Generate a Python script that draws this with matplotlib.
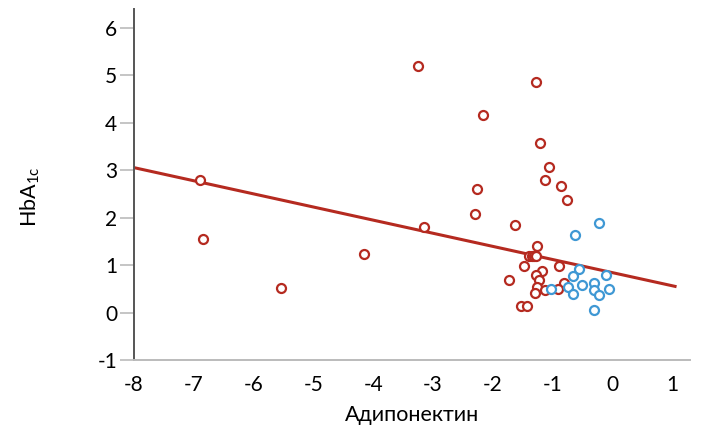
import matplotlib
matplotlib.use("Agg")
import matplotlib.pyplot as plt

plt.rcParams['font.family'] = ['Lato', 'DejaVu Sans']
plt.rcParams['mathtext.fontset'] = 'custom'
plt.rcParams['mathtext.rm'] = 'Lato'
plt.rcParams['mathtext.it'] = 'Lato'

# red group
red_x = [-6.90, -6.84, -5.54, -4.15, -3.15, -3.25, -2.16, -2.27, -2.29, -1.62,
         -1.27, -1.21, -1.06, -1.13, -0.85, -0.76, -1.26, -1.39, -1.35, -1.31,
         -1.27, -1.48, -0.89, -1.18, -1.28, -1.72, -1.22, -0.81, -1.26, -1.13,
         -0.90, -1.30, -1.53, -1.42]
red_y = [2.78, 1.54, 0.51, 1.24, 1.79, 5.18, 4.15, 2.59, 2.08, 1.85,
         4.86, 3.56, 3.07, 2.79, 2.66, 2.36, 1.39, 1.19, 1.19, 1.19,
         1.19, 0.97, 0.97, 0.87, 0.79, 0.68, 0.68, 0.62, 0.54, 0.48,
         0.49, 0.41, 0.13, 0.13]

# blue group
blue_x = [-0.23, -0.62, -0.55, -0.66, -0.11, -1.03, -0.74, -0.50, -0.30, -0.31,
          -0.05, -0.65, -0.23, -0.30]
blue_y = [1.89, 1.63, 0.91, 0.77, 0.79, 0.49, 0.53, 0.58, 0.62, 0.48,
          0.50, 0.40, 0.37, 0.06]

# regression line end points
fit_x = [-8.0, 1.05]
fit_y = [3.05, 0.55]

x_ticks = [-8, -7, -6, -5, -4, -3, -2, -1, 0, 1]
y_ticks = [-1, 0, 1, 2, 3, 4, 5, 6]

red = '#b52a20'
blue = '#3f98d4'

fig = plt.figure(figsize=(7.01, 4.26), dpi=100)
ax = fig.add_axes([134 / 701, 66 / 426, 556 / 701, 351 / 426])

ax.plot(fit_x, fit_y, color=red, lw=2.2, zorder=2)
ax.scatter(red_x, red_y, s=42, facecolors='white', edgecolors=red, linewidths=1.6, zorder=3)
ax.scatter(blue_x, blue_y, s=42, facecolors='white', edgecolors=blue, linewidths=1.6, zorder=3)

ax.set_xlim(-8, 1.3)
ax.set_ylim(-1, 6.39)
ax.set_xticks(x_ticks)
ax.set_yticks(y_ticks)
ax.set_xticklabels([str(v) for v in x_ticks])
ax.set_yticklabels([str(v) for v in y_ticks])

ax.spines['top'].set_visible(False)
ax.spines['right'].set_visible(False)
ax.spines['left'].set_color('#555555')
ax.spines['left'].set_linewidth(1.4)
ax.spines['bottom'].set_color('#bbbbbb')
ax.spines['bottom'].set_linewidth(1.4)

ax.tick_params(axis='y', length=10, width=1.2, color='#bbbbbb', pad=2, labelsize=15)
ax.tick_params(axis='x', length=0, pad=11, labelsize=15)

ax.set_xlabel('Адипонектин', fontsize=15.5, labelpad=7)
ax.set_ylabel('HbA$_{1c}$', fontsize=15.5)
ax.yaxis.set_label_coords(-0.165, 0.465)

fig.savefig('out.png', dpi=100)
